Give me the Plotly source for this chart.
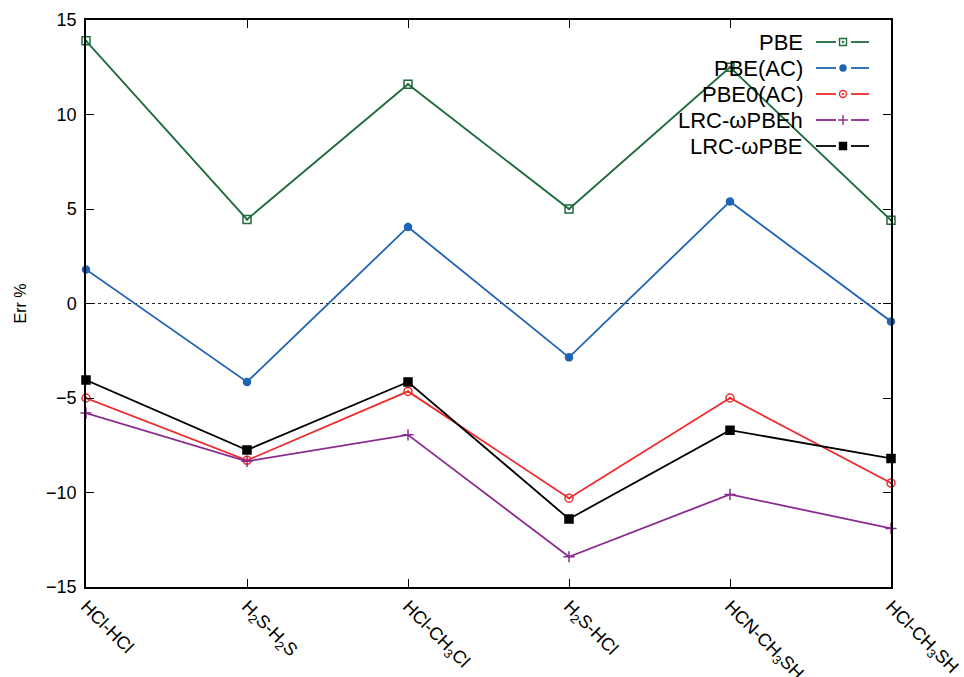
import plotly.graph_objects as go

categories = ["HCl-HCl", "H<sub>2</sub>S-H<sub>2</sub>S", "HCl-CH<sub>3</sub>Cl",
              "H<sub>2</sub>S-HCl", "HCN-CH<sub>3</sub>SH", "HCl-CH<sub>3</sub>SH"]
x_pos = [0, 1, 2, 3, 4, 5]

pbe = [13.9, 4.45, 11.6, 5.0, 12.5, 4.4]
pbe_ac = [1.8, -4.15, 4.05, -2.85, 5.4, -0.95]
pbe0_ac = [-5.0, -8.3, -4.65, -10.3, -5.0, -9.5]
lrc_wpbeh = [-5.8, -8.35, -6.95, -13.4, -10.1, -11.9]
lrc_wpbe = [-4.05, -7.75, -4.15, -11.4, -6.7, -8.2]

series_names = ["PBE", "PBE(AC)", "PBE0(AC)", "LRC-ωPBEh", "LRC-ωPBE"]
series_values = [pbe, pbe_ac, pbe0_ac, lrc_wpbeh, lrc_wpbe]

y_ticks = [-15, -10, -5, 0, 5, 10, 15]

styles = [
    ("#1e6b3c", "square-open-dot", 8),
    ("#1f63b5", "circle", 7),
    ("#ee2a2a", "circle-open-dot", 8),
    ("#8a2a90", "cross-thin", 8),
    ("#000000", "square", 8),
]

W, H = 964, 677
PL, PR, PT, PB = 86, 73, 20, 90


def px_x(px):
    return (px - PL) / (W - PL - PR)


def px_y(py):
    return 1 - (py - PT) / (H - PT - PB)


fig = go.Figure()

# zero line
fig.add_trace(go.Scatter(x=[0, 5], y=[0, 0], mode="lines",
                         line=dict(color="#222222", width=1, dash="dot"),
                         hoverinfo="skip", showlegend=False))

for name, vals, (color, sym, size) in zip(series_names, series_values, styles):
    fig.add_trace(go.Scatter(
        x=x_pos, y=vals, mode="lines+markers", name=name,
        line=dict(color=color, width=1.8),
        marker=dict(symbol=sym, size=size, color=color,
                    line=dict(color=color, width=1.5)),
        cliponaxis=False, showlegend=False))

# custom legend (text left of sample, gnuplot style)
for i, (name, (color, sym, size)) in enumerate(zip(series_names, styles)):
    py = 42 + i * 26
    fig.add_annotation(x=px_x(805), y=px_y(py), xref="paper", yref="paper",
                       text=name, showarrow=False, xanchor="right", yanchor="middle",
                       font=dict(size=22, color="black"))
    fig.add_shape(type="line", xref="paper", yref="paper",
                  x0=px_x(816), x1=px_x(836), y0=px_y(py), y1=px_y(py),
                  line=dict(color=color, width=1.8))
    fig.add_shape(type="line", xref="paper", yref="paper",
                  x0=px_x(851), x1=px_x(869), y0=px_y(py), y1=px_y(py),
                  line=dict(color=color, width=1.8))
    fig.add_trace(go.Scatter(x=[px_x(843)], y=[px_y(py)], xaxis="x2", yaxis="y2",
                             mode="markers",
                             marker=dict(symbol=sym, size=size - 1, color=color,
                                         line=dict(color=color, width=1.4)),
                             hoverinfo="skip", showlegend=False))

fig.update_layout(
    width=W, height=H,
    margin=dict(l=PL, r=PR, t=PT, b=PB),
    paper_bgcolor="white", plot_bgcolor="white",
    font=dict(family="Liberation Sans, Arial, sans-serif", size=18, color="black"),
    xaxis=dict(range=[0, 5], tickvals=x_pos, ticktext=categories, tickangle=45,
               ticks="inside", ticklen=8, tickwidth=1, tickcolor="black",
               showline=True, linecolor="black", linewidth=1.5, mirror="ticks",
               showgrid=False, zeroline=False, tickfont=dict(size=18),
               automargin=False, ticklabeloverflow="allow"),
    yaxis=dict(range=[-15, 15], tickvals=y_ticks, ticks="inside", ticklen=8,
               tickwidth=1, tickcolor="black",
               showline=True, linecolor="black", linewidth=1.5, mirror="ticks",
               showgrid=False, zeroline=False, tickfont=dict(size=18),
               ticklabelstandoff=4, automargin=False,
               title=dict(text="Err %", font=dict(size=16), standoff=16)),
    xaxis2=dict(range=[0, 1], overlaying="x", visible=False, anchor="y2"),
    yaxis2=dict(range=[0, 1], overlaying="y", visible=False, anchor="x2"),
    showlegend=False,
)

fig.write_html("out.html")
